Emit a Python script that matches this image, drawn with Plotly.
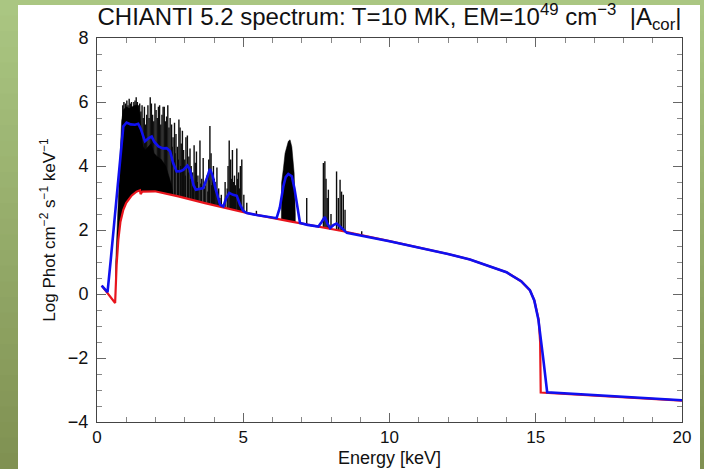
import plotly.graph_objects as go

# ---------------- data ----------------
cont_E = [0.16, 0.62, 0.67, 0.73, 0.80, 0.90, 1.00, 1.19, 1.35, 1.47, 1.49, 1.55, 1.98,
          2.78, 3.69, 5.12, 6.60, 8.42, 10.0, 11.0, 12.0, 12.75, 13.5, 14.0, 14.5,
          14.8, 14.95, 15.10, 15.15, 15.17, 20.0]
cont_Y = [0.26, -0.28, 0.90, 1.70, 2.25, 2.63, 2.85, 3.08, 3.20, 3.24, 3.12, 3.20, 3.21,
          3.05, 2.84, 2.53, 2.27, 1.96, 1.65, 1.46, 1.25, 1.08, 0.85, 0.68, 0.40,
          0.12, -0.20, -0.80, -1.50, -3.08, -3.33]

model_E = [0.16, 0.36, 0.47, 0.62, 0.79, 0.90, 1.01, 1.15, 1.30, 1.41, 1.50, 1.64, 1.78,
           1.87, 1.96, 2.10, 2.25, 2.38, 2.50, 2.60, 2.72, 2.85, 2.95, 3.09, 3.18, 3.30,
           3.38, 3.50, 3.63, 3.75, 3.86, 3.95, 4.05, 4.21, 4.32, 4.42, 4.52, 4.65, 4.78,
           4.89, 5.00, 5.12, 5.50, 6.14, 6.25, 6.37, 6.45, 6.54, 6.66, 6.75, 6.83, 6.94,
           7.20, 7.57, 7.68, 7.79, 7.88, 7.97, 8.08, 8.19, 8.30, 8.37, 8.54, 10.0, 11.0,
           12.0, 12.75, 13.5, 14.0, 14.5, 14.8, 14.95, 15.09, 15.26, 15.39, 20.0]
model_Y = [0.26, 0.06, 1.07, 2.50, 4.35, 5.24, 5.36, 5.30, 5.29, 5.32, 5.15, 4.77, 4.88,
           4.92, 4.75, 4.61, 4.55, 4.56, 4.46, 4.10, 3.83, 3.84, 3.88, 4.01, 3.88, 3.40,
           3.26, 3.29, 3.31, 3.60, 3.91, 3.70, 3.30, 2.79, 2.74, 3.00, 3.16, 3.10, 3.07,
           2.79, 2.60, 2.53, 2.46, 2.37, 2.70, 3.36, 3.65, 3.75, 3.68, 3.30, 2.84, 2.22,
           2.16, 2.11, 2.25, 2.41, 2.20, 2.06, 2.15, 2.20, 2.12, 2.06, 1.91, 1.65, 1.46,
           1.25, 1.08, 0.85, 0.68, 0.40, 0.12, -0.20, -0.80, -2.05, -3.07, -3.32]

# envelope of the blended (solid black) line regions
blend_lo_E = [0.60, 0.62, 0.64, 0.70, 0.73, 0.79, 0.84, 0.90, 1.00, 1.10, 1.20, 1.30,
              1.38, 1.47, 1.52, 1.58, 1.65, 1.75, 1.85, 1.95, 2.05, 2.20, 2.35, 2.45,
              2.55, 2.60, 2.60]
blend_lo_Y = [-4.0, -0.28, 1.00, 2.30, 2.90, 4.30, 5.40, 5.75, 5.85, 5.80, 5.85, 5.90,
              5.90, 5.60, 5.00, 4.60, 4.50, 4.60, 4.70, 4.40, 4.30, 4.20, 4.00, 3.70,
              3.40, 3.10, -4.0]
blend_fe_E = [6.26, 6.31, 6.37, 6.43, 6.54, 6.60, 6.66, 6.71, 6.74, 6.78, 6.78]
blend_fe_Y = [-4.0, 3.47, 3.90, 4.40, 4.77, 4.82, 4.60, 4.10, 3.78, 2.50, -4.0]

# individual emission lines: energy (keV) and peak (log flux)
line_E = [0.88, 0.92, 0.97, 1.02, 1.06, 1.10, 1.14, 1.18, 1.22, 1.26, 1.30, 1.34, 1.38,
          1.42, 1.46, 1.50, 1.54, 1.58, 1.62, 1.66, 1.70, 1.74, 1.78, 1.82, 1.86, 1.90,
          1.94, 1.98, 2.02, 2.06, 2.10, 2.14, 2.18, 2.22, 2.26, 2.30, 2.34, 2.38, 2.42,
          2.46, 2.50, 2.55, 2.60, 2.65, 2.70, 2.75, 2.80, 2.84, 2.88, 2.92, 2.96, 3.00,
          3.04, 3.09, 3.14, 3.18, 3.22, 3.27, 3.32, 3.36, 3.40, 3.45, 3.52, 3.58, 3.63,
          3.70, 3.76, 3.82, 3.86, 3.90, 3.95, 3.98, 4.04, 4.10, 4.16, 4.25, 4.38, 4.48,
          4.52, 4.57, 4.63, 4.70, 4.78, 4.84, 4.90, 4.95, 5.02, 5.12, 5.45, 7.17, 7.74,
          7.79, 7.83, 7.87, 7.91, 8.00, 8.19, 8.25, 8.31, 8.36, 8.42, 8.48, 9.05,
          2.57, 2.67, 2.78, 2.86, 2.94, 3.02, 3.12, 3.20, 3.30, 3.43, 3.48, 3.55, 3.67,
          3.79, 3.84, 3.92, 4.01, 4.07, 4.13, 4.20, 4.45, 4.60, 4.67, 4.74, 4.81, 4.87]
line_top = [5.90, 6.00, 5.95, 6.05, 5.90, 6.10, 5.95, 6.00, 5.80, 6.00, 6.05, 6.15, 6.00,
            5.90, 5.95, 5.70, 5.90, 5.50, 5.85, 5.30, 5.60, 5.90, 5.50, 6.15, 5.95, 5.60,
            5.40, 5.95, 5.75, 5.50, 5.85, 5.90, 5.30, 5.60, 5.85, 5.85, 5.40, 5.55, 5.90,
            5.20, 5.50, 5.30, 4.90, 5.35, 5.00, 4.60, 5.45, 5.20, 4.70, 5.10, 4.50, 4.20,
            4.90, 4.95, 4.30, 4.55, 4.00, 3.80, 4.65, 4.10, 4.45, 3.70, 4.80, 3.60, 4.25,
            3.40, 3.70, 4.20, 5.25, 4.40, 3.60, 4.00, 3.50, 3.95, 3.30, 3.10, 3.50, 4.00,
            4.80, 4.20, 4.50, 3.70, 4.55, 3.80, 4.00, 4.20, 3.10, 2.85, 2.60, 3.00, 4.09,
            4.15, 3.60, 3.00, 3.26, 2.50, 3.83, 3.00, 3.57, 3.20, 3.10, 2.63, 1.96,
            4.60, 4.40, 4.20, 4.00, 3.90, 3.70, 3.80, 3.60, 3.40, 3.50, 3.30, 3.45, 3.30,
            3.20, 3.55, 3.40, 3.60, 3.20, 3.10, 3.00, 3.30, 3.60, 3.50, 3.40, 3.60, 3.30]

title_text = ("CHIANTI 5.2 spectrum: T=10 MK, EM=10<sup>49</sup> cm<sup>\u22123</sup>"
              "&nbsp;&nbsp;|A<sub>cor</sub>|")
x_title = "Energy [keV]"
y_title = "Log Phot cm<sup>\u22122</sup> s<sup>\u22121</sup> keV<sup>\u22121</sup>"

# ---------------- figure ----------------
W, H = 704, 469
L, R, T, B = 97, 22, 38, 47
pw, ph = W - L - R, H - T - B
FONT = "Liberation Sans, Arial, sans-serif"


def px(x):
    return (x - L) / pw


def py(y):
    return (H - B - y) / ph


fig = go.Figure()

# black line spectrum
fig.add_trace(go.Scatter(x=blend_lo_E, y=blend_lo_Y, fill="toself", fillcolor="black",
                         mode="lines", line=dict(color="black", width=0.5),
                         hoverinfo="skip", showlegend=False))
fig.add_trace(go.Scatter(x=blend_fe_E, y=blend_fe_Y, fill="toself", fillcolor="black",
                         mode="lines", line=dict(color="black", width=0.5),
                         hoverinfo="skip", showlegend=False))
lx, ly = [], []
for e, t in zip(line_E, line_top):
    lx += [e, e, None]
    ly += [-4.0, t, None]
fig.add_trace(go.Scatter(x=lx, y=ly, mode="lines", line=dict(color="black", width=1.4),
                         opacity=0.95, hoverinfo="skip", showlegend=False))

# mask below continuum and continuum curve (red)
fig.add_trace(go.Scatter(x=[cont_E[0], cont_E[-1]], y=[-4.0, -4.0], mode="lines",
                         line=dict(width=0, color="white"), hoverinfo="skip",
                         showlegend=False))
fig.add_trace(go.Scatter(x=cont_E, y=cont_Y, mode="lines", fill="tonexty",
                         fillcolor="white", line=dict(color="#e8141c", width=2.2),
                         showlegend=False))
# smoothed model (blue)
fig.add_trace(go.Scatter(x=model_E, y=model_Y, mode="lines",
                         line=dict(color="#1010f0", width=2.6), showlegend=False))

# background: green gradient frame + white panel
shapes = []
n = 30
top_c = (170, 198, 130)
bot_c = (128, 145, 82)
for i in range(n):
    f = i / (n - 1)
    c = tuple(int(round(top_c[k] + (bot_c[k] - top_c[k]) * f)) for k in range(3))
    y0 = i * H / n
    y1 = (i + 1) * H / n + 1
    shapes.append(dict(type="rect", xref="paper", yref="paper", layer="below",
                       x0=px(0), x1=px(W), y0=py(y1), y1=py(y0),
                       fillcolor="rgb(%d,%d,%d)" % c, line=dict(width=0)))
shapes.append(dict(type="rect", xref="paper", yref="paper", layer="below",
                   x0=px(18), x1=px(700), y0=py(H + 2), y1=py(5),
                   fillcolor="white", line=dict(width=0)))

axis_common = dict(showgrid=False, zeroline=False, ticks="inside", mirror="allticks",
                   showline=True, linecolor="#444444", linewidth=1, tickcolor="#666666",
                   tickwidth=1, automargin=False)

fig.update_layout(
    width=W, height=H,
    margin=dict(l=L, r=R, t=T, b=B, pad=0, autoexpand=False),
    paper_bgcolor="rgb(150,170,105)",
    plot_bgcolor="white",
    shapes=shapes,
    title=dict(text=title_text, x=0.5, xref="paper", xanchor="center",
               y=1 - 17 / H, yref="container", yanchor="middle", automargin=False,
               font=dict(family=FONT, size=24, color="#111111")),
    annotations=[dict(text=x_title, xref="paper", yref="paper", x=0.5,
                      y=py(458), xanchor="center", yanchor="middle", showarrow=False,
                      font=dict(family=FONT, size=18, color="#111111"))],
    xaxis=dict(range=[0, 20], tickvals=[0, 5, 10, 15, 20], ticklen=9,
               ticklabelstandoff=0,
               tickfont=dict(family=FONT, size=17, color="#111111"),
               minor=dict(dtick=1, ticklen=5, ticks="inside", tickcolor="#888888"),
               **axis_common),
    yaxis=dict(range=[-4, 8], tickvals=[-4, -2, 0, 2, 4, 6, 8], ticklen=9,
               ticklabelstandoff=4,
               tickfont=dict(family=FONT, size=18, color="#111111"),
               minor=dict(dtick=0.5, ticklen=5, ticks="inside", tickcolor="#888888"),
               title=dict(text=y_title, standoff=7,
                          font=dict(family=FONT, size=17, color="#111111")),
               **axis_common),
)

fig.write_html("out.html", config={"displayModeBar": False},
               post_script="document.body.style.margin='0';"
                           "document.body.style.padding='0';")
